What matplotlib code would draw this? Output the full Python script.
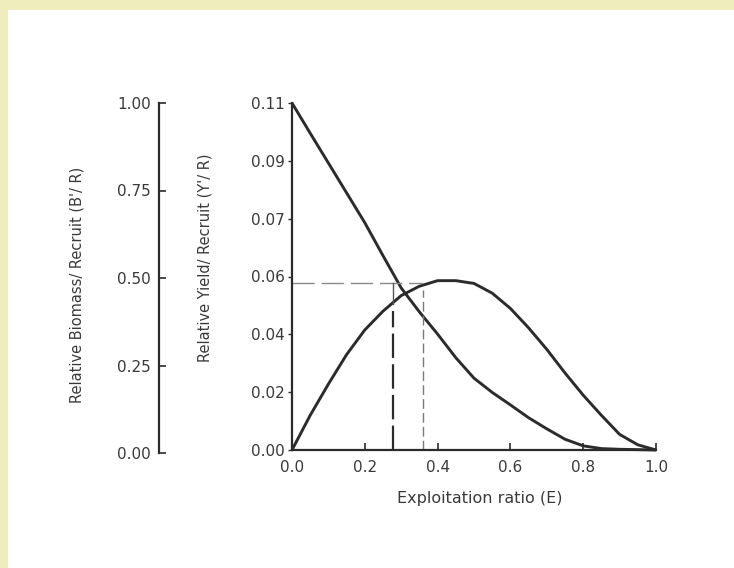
import numpy as np
from matplotlib import pyplot as plt
from matplotlib.patches import Rectangle

# exploitation ratio E and relative biomass per recruit (B'/R)
E_biomass = [0.0, 0.05, 0.1, 0.15, 0.2, 0.25, 0.3, 0.35, 0.4, 0.45, 0.5,
             0.55, 0.6, 0.65, 0.7, 0.75, 0.8, 0.85, 0.9, 0.95, 1.0]
biomass = [1.0, 0.913, 0.827, 0.741, 0.655, 0.56, 0.467, 0.398, 0.334, 0.266, 0.207,
           0.166, 0.13, 0.093, 0.061, 0.031, 0.012, 0.004, 0.002, 0.001, 0.0]

# relative yield per recruit, as height on the shared axis (0 = bottom, 1 = top)
E_yield = [0.0, 0.05, 0.1, 0.15, 0.2, 0.25, 0.3, 0.35, 0.4, 0.45, 0.5,
           0.55, 0.6, 0.65, 0.7, 0.75, 0.8, 0.85, 0.9, 0.95, 1.0]
yield_rel = [0.0, 0.10, 0.19, 0.275, 0.346, 0.40, 0.445, 0.472, 0.488, 0.488, 0.48,
             0.452, 0.408, 0.352, 0.29, 0.222, 0.158, 0.10, 0.045, 0.015, 0.0]

# reference lines
E_max = 0.278      # E at the crossing (heavy dashed line)
E_50 = 0.36        # thin dashed line
level = 0.48

x_ticks = [0.0, 0.2, 0.4, 0.6, 0.8, 1.0]
x_labels = ["0.0", "0.2", "0.4", "0.6", "0.8", "1.0"]
yr_labels = ["0.00", "0.02", "0.04", "0.06", "0.07", "0.09", "0.11"]
b_ticks = [0.0, 0.25, 0.5, 0.75, 1.0]
b_labels = ["0.00", "0.25", "0.50", "0.75", "1.00"]

W, H = 734, 568
ink = "#2b2b2b"
txt = "#3a3a3a"
plt.rcParams["font.family"] = "DejaVu Sans"

fig = plt.figure(figsize=(W / 100, H / 100), dpi=100, facecolor="white")
fig.add_artist(Rectangle((0, 1 - 10 / H), 1, 10 / H, transform=fig.transFigure,
                         color="#efedbc", lw=0, zorder=0))
fig.add_artist(Rectangle((0, 0), 8 / W, 1, transform=fig.transFigure,
                         color="#efedbc", lw=0, zorder=0))

# main plot
ax = fig.add_axes([292 / W, (H - 450) / H, 364 / W, 347 / H])
ax.set_facecolor("none")
ax.set_xlim(0, 1)
ax.set_ylim(0, 1)
for s in ["top", "right"]:
    ax.spines[s].set_visible(False)
for s in ["left", "bottom"]:
    ax.spines[s].set_linewidth(1.6)
    ax.spines[s].set_color(ink)

ax.plot(E_biomass, biomass, color=ink, lw=2.1, clip_on=False,
        solid_capstyle="butt", solid_joinstyle="round")
ax.plot(E_yield, yield_rel, color=ink, lw=2.1, clip_on=False,
        solid_capstyle="butt", solid_joinstyle="round")

ax.plot([0, E_50], [level, level], color="#8a8a8a", lw=1.0, dashes=(16, 5))
ax.plot([E_max, E_max], [0.0, 0.40], color=ink, lw=1.6, dashes=(11, 2.8))
ax.plot([E_max, E_max], [0.42, level], color="#555555", lw=1.0)
ax.plot([E_50, E_50], [0.0, level - 0.02], color="#7a7a7a", lw=1.0, dashes=(7, 3))

ax.set_xticks(x_ticks)
ax.set_xticklabels(x_labels)
ax.set_yticks(np.linspace(0, 1, len(yr_labels)))
ax.set_yticklabels(yr_labels)
ax.tick_params(axis="x", direction="in", length=5, width=1.2, pad=7,
               labelsize=11, colors=ink, labelcolor=txt)
ax.tick_params(axis="y", direction="out", length=3, width=1.0, pad=2,
               labelsize=11, colors=ink, labelcolor=txt)

# separate B'/R axis on the left
ax2 = fig.add_axes([159 / W, (H - 453) / H, 1 / W, 350 / H])
ax2.set_facecolor("none")
ax2.set_ylim(0, 1)
ax2.set_xticks([])
for s in ["top", "right", "bottom"]:
    ax2.spines[s].set_visible(False)
ax2.spines["left"].set_linewidth(1.6)
ax2.spines["left"].set_color(ink)
ax2.set_yticks(b_ticks)
ax2.set_yticklabels(b_labels)
ax2.tick_params(axis="y", direction="in", length=5, width=1.2, pad=6,
                labelsize=11, colors=ink, labelcolor=txt)

fig.text(77 / W, 1 - 285 / H, "Relative Biomass/ Recruit (B'/ R)", rotation=90,
         ha="center", va="center", fontsize=10.5, color=txt)
fig.text(205 / W, 1 - 258 / H, "Relative Yield/ Recruit (Y'/ R)", rotation=90,
         ha="center", va="center", fontsize=10.5, color=txt)
fig.text(480 / W, 1 - 499 / H, "Exploitation ratio (E)", ha="center", va="center",
         fontsize=11.5, color=txt)

fig.savefig("out.png", dpi=100)
